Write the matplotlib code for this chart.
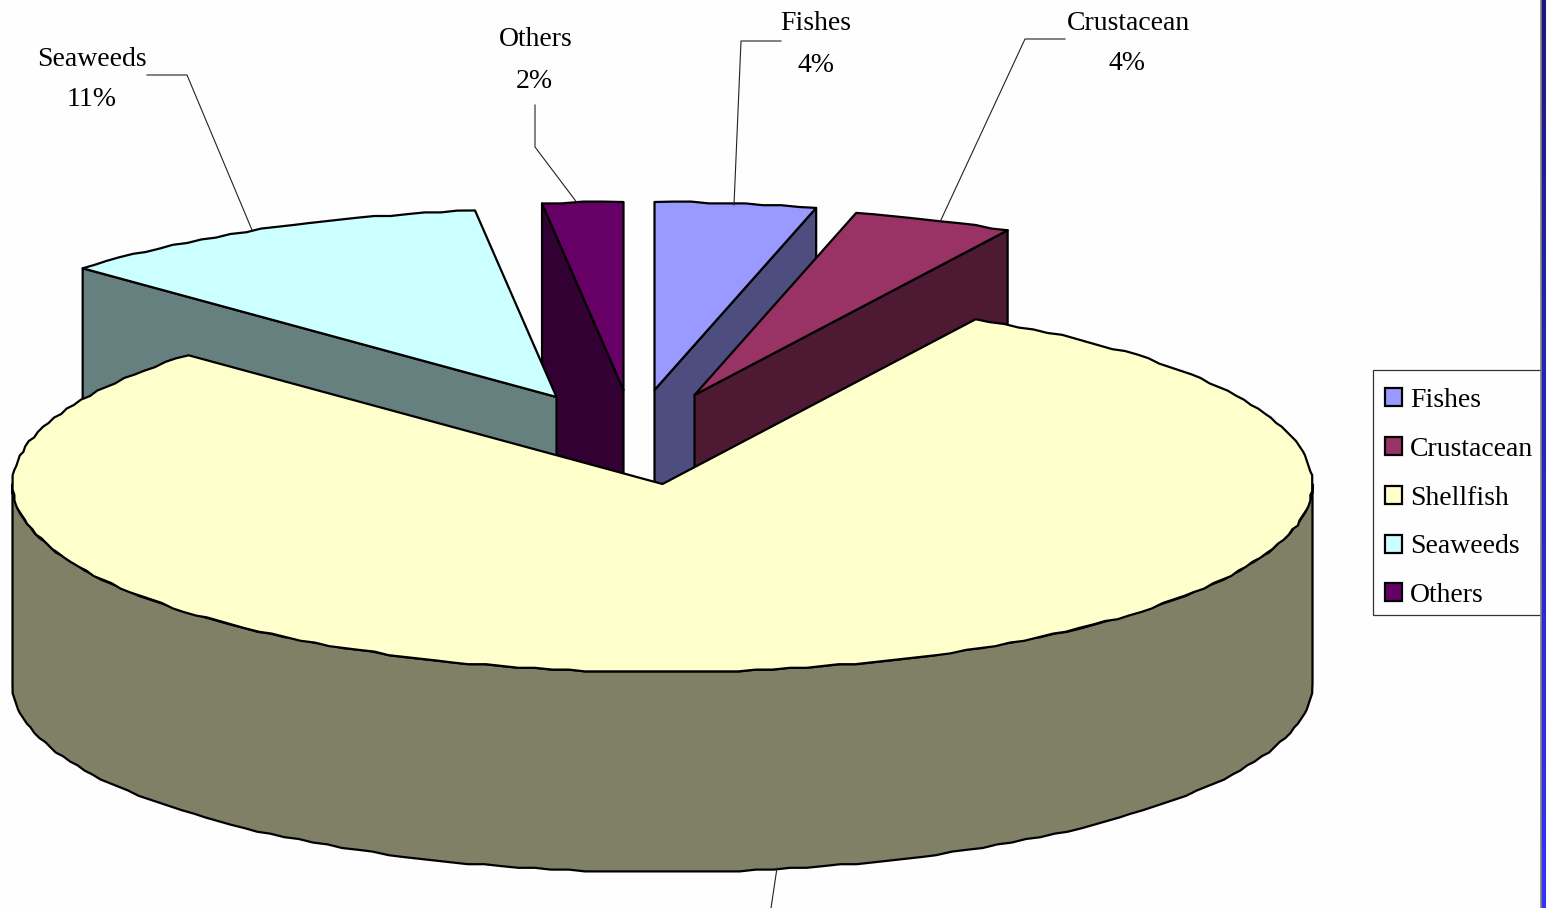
import numpy as np
import matplotlib
matplotlib.use("Agg")
import matplotlib.pyplot as plt
from matplotlib.patches import Polygon, Patch, Rectangle

plt.rcParams['font.family'] = ['Liberation Serif', 'DejaVu Serif']

categories = ["Fishes", "Crustacean", "Shellfish", "Seaweeds", "Others"]
shares = [4, 4, 79, 11, 2]
top_colors = ["#9999FF", "#993366", "#FFFFCC", "#CCFFFF", "#660066"]
side_colors = ["#4D4D80", "#4D1933", "#808066", "#668080", "#330033"]

# Pull-out of each slice from the pie centre, in pixels
explode_x = [-8, 32, 0, -106, -39]
explode_y = [-94, -89, 0, -87, -94]

W, H = 1546, 908
CX, CY = 662.5, 484
RX, RY = 650, 188
DEPTH = 200
GRID = 1.8  # rim vertices snap to a coarse grid, giving the faceted outline
EDGE = dict(edgecolor="black", linewidth=1.6, joinstyle="round")

fig = plt.figure(figsize=(W / 100, H / 100), dpi=100, facecolor="#FEFEFE")
ax = fig.add_axes([0, 0, 1, 1])
ax.set_xlim(0, W)
ax.set_ylim(H, 0)
ax.axis("off")

# Slice boundaries, clockwise from twelve o'clock
bounds = np.concatenate([[0], np.cumsum(shares)]) / sum(shares) * 2 * np.pi


def rim(i, t):
    pts = np.column_stack([CX + explode_x[i] + RX * np.sin(t),
                           CY + explode_y[i] - RY * np.cos(t)])
    snapped = np.round(pts / GRID) * GRID
    snapped[0], snapped[-1] = pts[0], pts[-1]
    return snapped


def steps(a, b):
    return np.linspace(a, b, max(3, int((b - a) / np.radians(1.5)) + 1))


def draw_slice(i, z):
    t0, t1 = bounds[i], bounds[i + 1]
    apex = np.array([CX + explode_x[i], CY + explode_y[i]])
    drop = np.array([0, DEPTH])
    arc = rim(i, steps(t0, t1))

    # Outer wall, only where the rim faces the viewer
    lo, hi = max(t0, np.pi / 2), min(t1, 3 * np.pi / 2)
    if lo < hi:
        front = rim(i, steps(lo, hi))
        ax.add_patch(Polygon(np.vstack([front, front[::-1] + drop]),
                             facecolor=side_colors[i], zorder=z, **EDGE))

    # Cut faces that turn toward the viewer; the lower edge is hidden by the front slice
    if t1 < np.pi:
        end = arc[-1]
        ax.add_patch(Polygon([apex, end, end + drop, apex + drop],
                             facecolor=side_colors[i], zorder=z, **EDGE))
    if t0 > np.pi:
        end = arc[0]
        ax.add_patch(Polygon([apex, end, (end[0], apex[1] + DEPTH), apex + drop],
                             facecolor=side_colors[i], zorder=z, **EDGE))

    ax.add_patch(Polygon(np.vstack([apex, arc]), facecolor=top_colors[i],
                         zorder=z + 0.5, **EDGE))


# Back slices first, the large front slice last
for z, i in enumerate([4, 3, 0, 1, 2]):
    draw_slice(i, z + 1)

# Leader lines and value labels
LEADER = dict(color="#222222", linewidth=0.8, zorder=8)
ax.plot([147, 187, 252], [75, 75, 230], **LEADER)
ax.plot([535, 535, 578], [105, 147, 204], **LEADER)
ax.plot([781, 741, 734], [41, 41, 205], **LEADER)
ax.plot([1065, 1025, 940], [39, 39, 222], **LEADER)
ax.plot([777, 771], [868, 908], **LEADER)

label_pos = {0: (816, 24, 816, 66), 1: (1128, 23, 1127, 64),
             3: (92, 60, 92, 100), 4: (536, 40, 534, 82)}
for i, (x0, y0, x1, y1) in label_pos.items():
    ax.text(x0, y0, categories[i], fontsize=20, ha="center", va="center", color="black")
    ax.text(x1, y1, f"{shares[i]}%", fontsize=20, ha="center", va="center", color="black")

# Legend box and entries
ax.add_patch(Rectangle((1373, 370), 170, 245, facecolor="#FEFEFE",
                       edgecolor="#333333", linewidth=0.9, zorder=8))
handles = [Patch(facecolor=c, edgecolor="black", linewidth=1.6) for c in top_colors]
leg = ax.legend(handles, categories, loc="upper left",
                bbox_to_anchor=(1384.5 / W, 1 - 388 / H), bbox_transform=fig.transFigure,
                fontsize=20, frameon=False,
                handlelength=0.62, handleheight=0.62, handletextpad=0.3,
                borderaxespad=0, borderpad=0, labelspacing=0.856)
leg.set_zorder(9)

# Slide border down the right side, darker toward the top
strip = np.linspace(0, 1, 256)[:, None, None] * (np.array([51, 51, 255]) - np.array([26, 26, 128])) \
    + np.array([26, 26, 128])
ax.imshow(strip / 255, extent=(1541, W, H, 0), aspect="auto", zorder=10)
ax.plot([1540.5, 1540.5], [0, H], color="#808080", linewidth=1.2, zorder=11)
ax.set_xlim(0, W)
ax.set_ylim(H, 0)

fig.savefig("out.png", dpi=100, facecolor=fig.get_facecolor())
